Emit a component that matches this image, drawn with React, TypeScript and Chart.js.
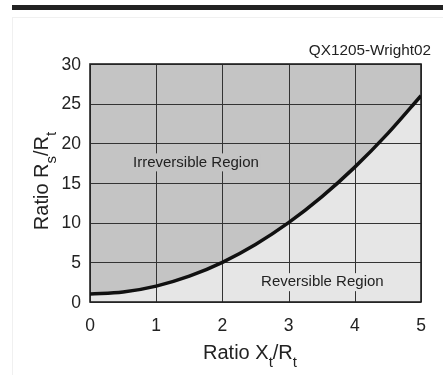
import React, { useEffect, useRef } from "react";
import { Chart, registerables } from "chart.js";

Chart.register(...registerables);

const xValues = [0, 0.5, 1, 1.5, 2, 2.5, 3, 3.5, 4, 4.5, 5];
const yValues = [1, 1.25, 2, 3.25, 5, 7.25, 10, 13.25, 17, 21.25, 26];
const xTicks = [0, 1, 2, 3, 4, 5];
const yTicks = [0, 5, 10, 15, 20, 25, 30];
const regionLabels = ["Irreversible Region", "Reversible Region"];
const regionPos = [
  [1.6, 17.6],
  [3.51, 2.5],
];
const sourceLabel = "QX1205-Wright02";

const DARK = "#c4c4c4";
const LIGHT = "#e6e6e6";
const FONT = "'Liberation Sans', Arial, sans-serif";

function drawSub(ctx: CanvasRenderingContext2D, parts: [string, boolean][], x: number, y: number, size: number) {
  const subSize = size * 0.75;
  let total = 0;
  const widths = parts.map(([t, sub]) => {
    ctx.font = `${sub ? subSize : size}px ${FONT}`;
    const w = ctx.measureText(t).width;
    total += w;
    return w;
  });
  let cx = x - total / 2;
  parts.forEach(([t, sub], i) => {
    ctx.font = `${sub ? subSize : size}px ${FONT}`;
    ctx.fillText(t, cx, sub ? y + size * 0.38 : y);
    cx += widths[i];
  });
}

const gridPlugin = {
  id: "gridPlugin",
  beforeDatasetsDraw(chart: any) {
    const ctx = chart.ctx as CanvasRenderingContext2D;
    const xs = chart.scales.x;
    const ys = chart.scales.y;
    const a = chart.chartArea;
    ctx.save();
    ctx.strokeStyle = "#333";
    ctx.lineWidth = 1;
    ctx.beginPath();
    xTicks.forEach((v) => {
      const px = Math.round(xs.getPixelForValue(v)) + 0.5;
      ctx.moveTo(px, a.top);
      ctx.lineTo(px, a.bottom);
    });
    yTicks.forEach((v) => {
      const py = Math.round(ys.getPixelForValue(v)) + 0.5;
      ctx.moveTo(a.left, py);
      ctx.lineTo(a.right, py);
    });
    ctx.stroke();
    ctx.strokeStyle = "#222";
    ctx.lineWidth = 1.6;
    ctx.strokeRect(a.left, a.top, a.right - a.left, a.bottom - a.top);
    ctx.restore();
  },
  afterDraw(chart: any) {
    const ctx = chart.ctx as CanvasRenderingContext2D;
    const xs = chart.scales.x;
    const ys = chart.scales.y;
    const a = chart.chartArea;
    ctx.save();
    ctx.fillStyle = "#222";
    ctx.font = `17.5px ${FONT}`;
    ctx.textAlign = "right";
    ctx.textBaseline = "middle";
    yTicks.forEach((v) => {
      ctx.fillText(String(v), a.left - 9, ys.getPixelForValue(v) + 1);
    });
    ctx.textAlign = "center";
    ctx.textBaseline = "alphabetic";
    xTicks.forEach((v) => {
      ctx.fillText(String(v), xs.getPixelForValue(v), a.bottom + 29);
    });
    ctx.font = `15px ${FONT}`;
    ctx.textBaseline = "middle";
    ctx.textAlign = "center";
    regionLabels.forEach((lab, i) => {
      const px = xs.getPixelForValue(regionPos[i][0]);
      const py = ys.getPixelForValue(regionPos[i][1]);
      const w = ctx.measureText(lab).width;
      ctx.fillStyle = i === 0 ? DARK : LIGHT;
      ctx.fillRect(px - w / 2 - 2, py - 9, w + 4, 18);
      ctx.fillStyle = "#222";
      ctx.fillText(lab, px, py);
    });
    ctx.textAlign = "right";
    ctx.textBaseline = "alphabetic";
    ctx.font = `15.3px ${FONT}`;
    ctx.fillStyle = "#222";
    ctx.fillText(sourceLabel, 431, 55);
    ctx.textAlign = "left";
    drawSub(ctx, [["Ratio X", false], ["t", true], ["/R", false], ["t", true]], 250, 359, 20);
    ctx.save();
    ctx.translate(48, 181);
    ctx.rotate(-Math.PI / 2);
    drawSub(ctx, [["Ratio R", false], ["s", true], ["/R", false], ["t", true]], 0, 0, 20);
    ctx.restore();
    ctx.restore();
  },
};

export default function App() {
  const ref = useRef<HTMLCanvasElement>(null);
  useEffect(() => {
    if (!ref.current) return;
    const pts = xValues.map((x, i) => ({ x, y: yValues[i] }));
    const chart = new Chart(ref.current, {
      type: "line",
      data: {
        datasets: [
          {
            data: pts,
            fill: "end",
            backgroundColor: DARK,
            borderWidth: 0,
            borderColor: "rgba(0,0,0,0)",
            pointRadius: 0,
            tension: 0.4,
            cubicInterpolationMode: "monotone",
          },
          {
            data: pts,
            fill: "start",
            backgroundColor: LIGHT,
            borderColor: "#111",
            borderWidth: 3.5,
            pointRadius: 0,
            tension: 0.4,
            cubicInterpolationMode: "monotone",
          },
        ],
      } as any,
      options: {
        animation: false,
        responsive: false,
        events: [],
        layout: { padding: { left: 90, right: 22, top: 64, bottom: 73 } },
        plugins: {
          legend: { display: false },
          tooltip: { enabled: false },
          filler: { drawTime: "beforeDraw" },
        },
        scales: {
          x: { type: "linear", min: 0, max: 5, display: false },
          y: { type: "linear", min: 0, max: 30, display: false },
        },
      } as any,
      plugins: [gridPlugin],
    });
    return () => chart.destroy();
  }, []);
  return (
    <div style={{ position: "absolute", left: 0, top: 0, width: 443, height: 375, background: "#fff" }}>
      <div style={{ position: "absolute", left: 12, top: 5, width: 431, height: 5, background: "#222" }} />
      <div
        style={{
          position: "absolute",
          left: 12,
          top: 17,
          width: 431,
          height: 358,
          borderLeft: "1px solid #f0f0f0",
          borderTop: "1px solid #f0f0f0",
          boxSizing: "border-box",
        }}
      />
      <canvas ref={ref} width={443} height={375} style={{ position: "absolute", left: 0, top: 0 }} />
    </div>
  );
}
